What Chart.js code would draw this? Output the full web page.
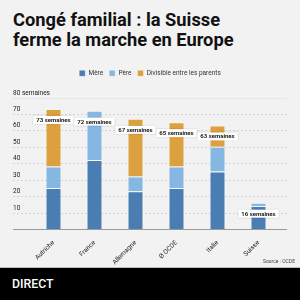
<!DOCTYPE html>
<html>
<head>
<meta charset="utf-8">
<script src="https://cdn.jsdelivr.net/npm/chart.js@4/dist/chart.umd.min.js"></script>
<style>
  html, body { margin: 0; padding: 0; }
  body { width: 300px; height: 300px; background: #f2f2f2; position: relative; overflow: hidden; font-family: Roboto, sans-serif; }
  #title { position: absolute; left: 13px; top: 10px; font-weight: 700; font-size: 18.3px; line-height: 20px; color: #111; }
  #wrap { position: absolute; left: 0; top: 64px; width: 300px; height: 204px; }
  #source { position: absolute; right: 5px; top: 258px; font-size: 5px; color: #444; }
  #footer { position: absolute; left: 0; top: 267px; width: 300px; height: 33px; background: #000; border-top: 1px solid #bbb; }
  #footer span { position: absolute; left: 12px; top: 9px; color: #fff; font-size: 12.3px; font-weight: 500; }
</style>
</head>
<body>
<div id="title">Congé familial : la Suisse<br>ferme la marche en Europe</div>
<div id="wrap"><canvas id="chart" width="300" height="204"></canvas></div>
<div id="source">Source : OCDE</div>
<div id="footer"><span>DIRECT</span></div>
<script>
const countries = ["Autriche", "France", "Allemagne", "Ø OCDE", "Italie", "Suisse"];
const mere = [25, 42, 23, 25, 35, 14];
const pere = [13, 30, 9, 13, 15, 2];
const divisible = [35, 0, 35, 27, 13, 0];
const yTicks = [0, 10, 20, 30, 40, 50, 60, 70, 80];

// grille pointillée et étiquettes de l'axe Y, dessinées à la main
const gridPlugin = {
    id: "gridPlugin",
    beforeDatasetsDraw(chart) {
        const ctx = chart.ctx;
        const y = chart.scales.y;
        ctx.save();
        yTicks.forEach(v => {
            const py = Math.round(y.getPixelForValue(v)) + 0.5;
            ctx.beginPath();
            if (v === 0) {
                ctx.setLineDash([]);
                ctx.strokeStyle = "#999";
            } else if (v === 80) {
                ctx.setLineDash([]);
                ctx.strokeStyle = "#e6e6e6";
            } else {
                ctx.setLineDash([2, 2]);
                ctx.strokeStyle = "#d4d4d4";
            }
            ctx.lineWidth = 1;
            ctx.moveTo(13, py);
            ctx.lineTo(287, py);
            ctx.stroke();
            if (v > 0) {
                ctx.fillStyle = "#222";
                ctx.font = "6.5px Roboto";
                ctx.textBaseline = "bottom";
                ctx.textAlign = "left";
                ctx.fillText(v === 80 ? "80 semaines" : String(v), 13, py - 1.5);
            }
        });
        ctx.restore();
    }
};

// étiquettes "xx semaines" en boîte blanche
const totalPlugin = {
    id: "totalPlugin",
    afterDatasetsDraw(chart) {
        const ctx = chart.ctx;
        const x = chart.scales.x;
        const y = chart.scales.y;
        ctx.save();
        ctx.font = "bold 6px Roboto";
        countries.forEach((c, i) => {
            const total = mere[i] + pere[i] + divisible[i];
            const text = total + " semaines";
            const px = x.getPixelForValue(i);
            const py = y.getPixelForValue(total) + 11;
            const w = ctx.measureText(text).width + 6;
            const h = 8;
            ctx.shadowColor = "rgba(0,0,0,0.15)";
            ctx.shadowBlur = 2;
            ctx.fillStyle = "#fff";
            ctx.fillRect(px - w / 2, py - h / 2, w, h);
            ctx.shadowBlur = 0;
            ctx.fillStyle = "#222";
            ctx.textAlign = "center";
            ctx.textBaseline = "middle";
            ctx.fillText(text, px, py + 0.5);
        });
        ctx.restore();
    }
};

new Chart(document.getElementById("chart"), {
    type: "bar",
    data: {
        labels: countries,
        datasets: [
            { label: "Mère", data: mere, backgroundColor: "#4a7db2", borderColor: "rgba(255,255,255,0.35)", borderWidth: 1 },
            { label: "Père", data: pere, backgroundColor: "#86b6e2", borderColor: "rgba(255,255,255,0.35)", borderWidth: 1 },
            { label: "Divisible entre les parents", data: divisible, backgroundColor: "#dca03e", borderColor: "rgba(255,255,255,0.35)", borderWidth: 1 }
        ]
    },
    options: {
        responsive: false,
        animation: false,
        layout: { padding: 0 },
        datasets: { bar: { categoryPercentage: 1, barPercentage: 0.39 } },
        plugins: {
            legend: {
                display: true,
                labels: { boxWidth: 6, boxHeight: 6, padding: 6, color: "#333", font: { family: "Roboto", size: 6.5 } }
            },
            tooltip: { enabled: false }
        },
        scales: {
            x: {
                stacked: true,
                grid: { display: false },
                border: { display: false },
                ticks: { color: "#222", font: { family: "Roboto", size: 6.5 }, minRotation: 45, maxRotation: 45, padding: 2 },
                afterFit(scale) { scale.height = 39; }
            },
            // axes vides qui servent seulement de marges
            xTop: {
                type: "category",
                position: "top",
                grid: { display: false },
                border: { display: false },
                ticks: { display: false },
                afterFit(scale) { scale.height = 11; }
            },
            y: {
                stacked: true,
                min: 0,
                max: 80,
                grid: { display: false },
                border: { display: false },
                ticks: { display: false, stepSize: 10 },
                afterFit(scale) { scale.width = 33; }
            },
            yRight: {
                type: "linear",
                position: "right",
                grid: { display: false },
                border: { display: false },
                ticks: { display: false },
                afterFit(scale) { scale.width = 21; }
            }
        }
    },
    plugins: [gridPlugin, totalPlugin]
});
</script>
</body>
</html>
